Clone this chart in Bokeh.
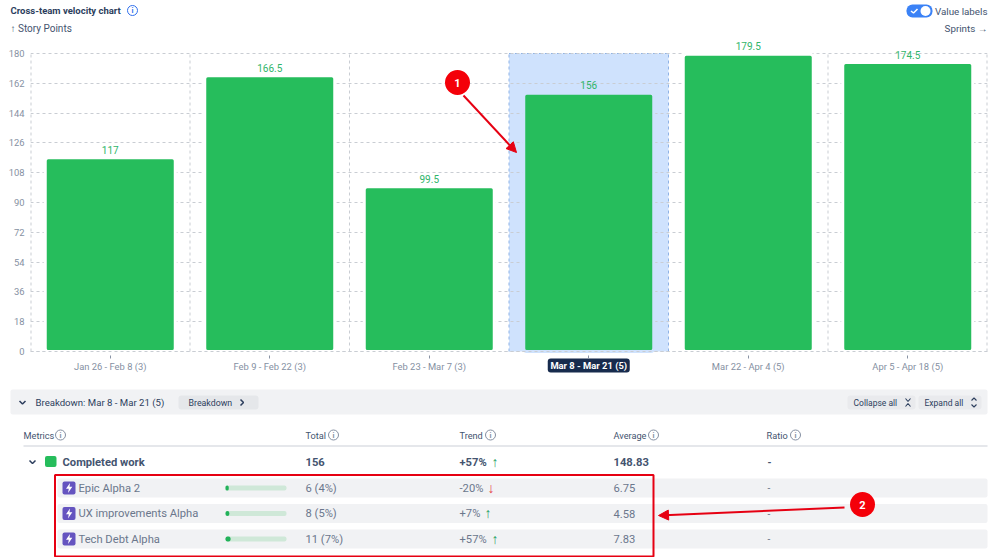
from bokeh.embed import file_html
from bokeh.resources import INLINE
from bokeh.plotting import figure
from bokeh.layouts import column
from bokeh.core.properties import value
from bokeh.models import (Range1d, FixedTicker, Grid, ColumnDataSource,
                          Arrow, NormalHead)

# ---------- data ----------
categories = ["Jan 26 - Feb 8 (3)", "Feb 9 - Feb 22 (3)", "Feb 23 - Mar 7 (3)",
              "Mar 8 - Mar 21 (5)", "Mar 22 - Apr 4 (5)", "Apr 5 - Apr 18 (5)"]
story_points = [117, 166.5, 99.5, 156, 179.5, 174.5]
value_labels = ["117", "166.5", "99.5", "156", "179.5", "174.5"]
y_ticks = [0, 18, 36, 54, 72, 90, 108, 126, 144, 162, 180]
selected = 3

epic_names = ["Epic Alpha 2", "UX improvements Alpha", "Tech Debt Alpha"]
epic_totals = ["6 (4%)", "8 (5%)", "11 (7%)"]
epic_share = [4, 5, 7]
epic_trends = ["-20%", "+7%", "+57%"]
epic_trend_up = [False, True, True]
epic_avgs = ["6.75", "4.58", "7.83"]
columns = ["Metrics", "Total", "Trend", "Average", "Ratio"]

# ---------- style ----------
FONT = "Roboto"
TXT = "#44546f"
DARK = "#2c3e5d"
MUTED = "#8590a2"
ROW = "#6b778c"
GRID = "#c9cdd3"
GREEN = "#26bd5c"
LABEL_GREEN = "#2fb56a"
BAND = "#f1f2f4"
RED = "#e60012"
BLUE = "#2f6fed"
W = 999


def canvas(top, bottom):
    """Figure whose data coordinates are page pixels."""
    f = figure(width=W, height=bottom - top, x_range=Range1d(0, W),
               y_range=Range1d(bottom, top), output_backend="svg", toolbar_location=None,
               min_border=0, outline_line_color=None, frame_align=False)
    f.axis.visible = False
    f.grid.visible = False
    return f


def txt(f, x, y, s, size="10.5px", color=TXT, style="normal", align="left"):
    f.text([x], [y], text=[s], text_font=value(FONT), text_font_size=size, text_color=color,
           text_font_style=style, text_align=align, text_baseline="middle")


def info(f, x, y, color=MUTED, r=5):
    f.circle([x], [y], radius=r, fill_color=None, line_color=color, line_width=1)
    txt(f, x, y, "i", "7.5px", color, "bold", "center")


# ---------- header ----------
head = canvas(0, 40)
txt(head, 10, 10, "Cross-team velocity chart", "9.5px", DARK, "bold")
info(head, 132, 10, BLUE)
txt(head, 10, 28, "↑ Story Points", "10px", TXT)
head.quad(left=[906], right=[932], top=[4], bottom=[17], fill_color="#3b82f6", line_color=None, border_radius=6)
head.circle([925], [10.5], radius=5, fill_color="white", line_color=None)
head.multi_line([[910.5, 913, 917]], [[10.5, 12.5, 8.5]], line_color="white", line_width=1.5)
txt(head, 987, 11, "Value labels", "9.8px", TXT, align="right")
txt(head, 987, 28, "Sprints →", "9.8px", TXT, align="right")


# ---------- chart ----------
def cx(px):
    return (px - 30) / 159.5


def cy(py):
    return (351 - py) / 298 * 180


xs = [i + 0.5 for i in range(len(categories))]
chart = figure(width=W, height=340, x_range=Range1d(0, len(categories)), y_range=Range1d(cy(380), cy(40)),
               output_backend="svg", toolbar_location=None, outline_line_color=None,
               min_border_left=30, min_border_right=12, min_border_top=0, min_border_bottom=0, frame_align=False)
chart.grid.visible = False
xaxis = chart.xaxis[0]
xaxis.fixed_location = 0
xaxis.ticker = FixedTicker(ticks=xs)
xaxis.major_label_overrides = {x: ("" if i == selected else categories[i]) for i, x in enumerate(xs)}
chart.yaxis.ticker = FixedTicker(ticks=y_ticks)
for ax in (xaxis, chart.yaxis[0]):
    ax.axis_line_color = None
    ax.minor_tick_line_color = None
    ax.major_label_text_font = FONT
    ax.major_label_text_font_size = "9.4px"
    ax.major_label_text_color = MUTED
xaxis.major_tick_line_color = "#8993a4"
xaxis.major_tick_in = -4
xaxis.major_tick_out = 7
xaxis.major_label_standoff = 2
chart.yaxis.major_tick_line_color = None
chart.yaxis.major_tick_in = 0
chart.yaxis.major_tick_out = 0
chart.yaxis.major_label_standoff = 6

chart.quad(left=[selected], right=[selected + 1], bottom=[0], top=[180], fill_color="#cfe2fd",
           line_color=None, level="image")
chart.add_layout(Grid(dimension=1, ticker=FixedTicker(ticks=y_ticks),
                      grid_line_color=GRID, grid_line_dash=[3, 3]))
n_slots = len(categories)
for slot in range(n_slots + 1):
    on_band = slot in (selected, selected + 1)
    chart.line([slot, slot], [y_ticks[0], y_ticks[-1]], line_color="#8fb3e6" if on_band else GRID,
               line_dash=[3, 3], line_width=2 if slot in (0, n_slots) else 1, level="underlay")
chart.line([selected, selected + 1], [y_ticks[-1], y_ticks[-1]], line_color="#8fb3e6", line_dash=[3, 3],
           level="underlay")

src = ColumnDataSource(dict(x=xs, top=story_points, label=value_labels,
                            lc=["white" if i != selected else "#cfe2fd" for i in range(len(xs))]))
chart.vbar(x="x", top="top", bottom=0, width=0.815, source=src, fill_color=GREEN,
           line_color="lc", line_width=3, border_radius=3)
chart.line([0, n_slots], [y_ticks[0], y_ticks[0]], line_color=GRID, line_dash=[3, 3], line_width=1)
chart.text(x="x", y="top", text="label", source=src, y_offset=-4, text_align="center", text_baseline="bottom",
           text_font=value(FONT), text_font_size="10px", text_font_style="normal", text_color=LABEL_GREEN)
chart.quad(left=[xs[selected] - 41 / 159.5], right=[xs[selected] + 41 / 159.5], top=[cy(358)], bottom=[cy(372)],
           fill_color="#172b4d", line_color=None, border_radius=3)
chart.text([xs[selected]], [cy(365)], text=[categories[selected]], text_font=value(FONT), text_font_size="9.4px",
           text_font_style="bold", text_color="white", text_align="center", text_baseline="middle")

chart.add_layout(Arrow(x_start=cx(463), y_start=cy(95), x_end=cx(516), y_end=cy(152), line_color=RED, line_width=2,
                       end=NormalHead(size=10, fill_color=RED, line_color=RED)))
chart.scatter([cx(457)], [cy(82)], size=25, fill_color="#f40009", line_color=None)
chart.text([cx(457)], [cy(82)], text=["1"], text_color="white", text_font=value(FONT), text_font_size="11px",
           text_font_style="bold", text_align="center", text_baseline="middle")

# ---------- breakdown table ----------
tab = canvas(380, 557)
tab.quad(left=[10], right=[987], top=[389], bottom=[414], fill_color=BAND, line_color=None, border_radius=2)
tab.multi_line([[19, 22, 25]], [[400.5, 403.5, 400.5]], line_color=DARK, line_width=1.5)
txt(tab, 35, 402, "Breakdown: Mar 8 - Mar 21 (5)", "9.6px", DARK)
tab.quad(left=[178], right=[258], top=[395], bottom=[409], fill_color="#e5e7ea", line_color=None, border_radius=3)
txt(tab, 188, 402, "Breakdown", "8.8px", DARK)
tab.multi_line([[240, 243, 240]], [[399, 402, 405]], line_color=DARK, line_width=1.5)
tab.quad(left=[847, 918], right=[915, 981], top=[395, 395], bottom=[409, 409], fill_color="#e9eaed",
         line_color=None, border_radius=3)
txt(tab, 853, 402, "Collapse all", "8.5px", DARK)
txt(tab, 924, 402, "Expand all", "8.5px", DARK)
tab.multi_line([[905, 907.5, 910], [905, 907.5, 910], [971, 973.5, 976], [971, 973.5, 976]],
               [[398, 401, 398], [406, 403, 406], [400, 397.5, 400], [404, 406.5, 404]],
               line_color=DARK, line_width=1.1)

col_x = [23, 305, 459, 613, 766]
info_x = [60, 333, 490, 653, 795]
for cname, x, ix in zip(columns, col_x, info_x):
    txt(tab, x, 434.5, cname, "9.2px", TXT)
    info(tab, ix, 434.5)
tab.line([23, 987], [445.5, 445.5], line_color="#dcdfe4", line_width=1.5)

tab.multi_line([[29, 32, 35]], [[460, 463, 460]], line_color=DARK, line_width=1.5)
tab.quad(left=[44.5], right=[56], top=[455.5], bottom=[466.5], fill_color=GREEN, line_color=None, border_radius=2)
txt(tab, 62, 461.5, "Completed work", "11.2px", TXT, "bold")
txt(tab, 305, 461.5, "156", "11.2px", TXT, "bold")
txt(tab, 459, 461.5, "+57%", "11.2px", TXT, "bold")
txt(tab, 491, 461, "↑", "14px", "#1f9d63", "bold")
txt(tab, 613, 461.5, "148.83", "11.2px", TXT, "bold")
txt(tab, 767, 461.5, "-", "10px", TXT, "bold")

row_y = [487.5, 513, 538.5]
tab.quad(left=[57] * 3, right=[987] * 3, top=[y - 9.5 for y in row_y], bottom=[y + 9.5 for y in row_y],
         fill_color=BAND, line_color=None, border_radius=2)
for i, y in enumerate(row_y):
    tab.quad(left=[62], right=[75], top=[y - 6.5], bottom=[y + 6.5], fill_color="#6554c0", line_color=None,
             border_radius=2)
    tab.patch([69.5, 65.5, 68.3, 67.5, 71.8, 69, 69.5], [y - 5, y + 0.8, y + 0.8, y + 5, y - 1.2, y - 1.2, y - 5],
              fill_color="white", line_color=None)
    txt(tab, 78, y, epic_names[i], "11.2px", ROW)
    tab.hbar(y=[y], left=[225], right=[286], height=5, fill_color="#cfe8d8", line_color=None, border_radius=2)
    tab.hbar(y=[y], left=[225], right=[225 + epic_share[i] * 0.61 + 0.8], height=5, fill_color="#22b25a",
             line_color=None, border_radius=2)
    txt(tab, 305, y, epic_totals[i], "11.2px", ROW)
    txt(tab, 459, y, epic_trends[i], "11.2px", ROW)
    tx = {0: 487, 1: 484, 2: 491}[i]
    txt(tab, tx, y - 0.5, "↑" if epic_trend_up[i] else "↓", "14px", "#1f9d63" if epic_trend_up[i] else "#e5484d", "bold")
    txt(tab, 613, y, epic_avgs[i], "11.2px", ROW)
    txt(tab, 767, y, "-", "10px", ROW)

tab.quad(left=[54.5], right=[653], top=[474.5], bottom=[556], fill_color=None, line_color=RED, line_width=2)
tab.add_layout(Arrow(x_start=844, y_start=507, x_end=658, y_end=515, line_color=RED, line_width=2,
                     end=NormalHead(size=10, fill_color=RED, line_color=RED)))
tab.scatter([862], [504], size=25, fill_color="#f40009", line_color=None)
txt(tab, 862, 504, "2", "11px", "white", "bold", "center")

page = column(head, chart, tab, spacing=0)
open("out.html", "w").write(file_html(page, INLINE))
